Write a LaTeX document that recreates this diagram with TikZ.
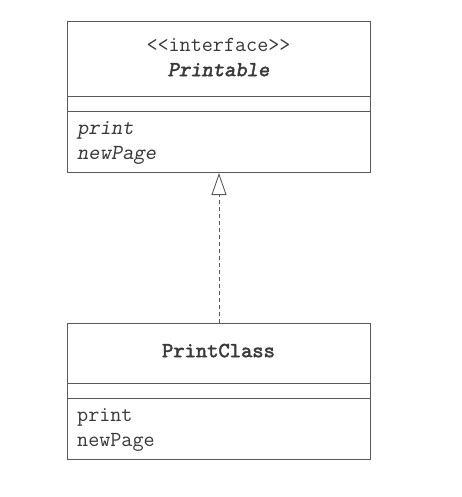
\documentclass[tikz,border=0pt]{standalone}
\usepackage{fontspec}
\newfontfamily\heavytt{lmmono10-regular.otf}[FakeBold=2.2]
\newfontfamily\heavyslt{lmmono10-regular.otf}[FakeBold=2.2, FakeSlant=0.18]
\usetikzlibrary{arrows.meta}
\definecolor{linegray}{HTML}{5A5A5A}
\definecolor{textgray}{HTML}{3A3A3A}
\begin{document}
\begin{tikzpicture}[x=1pt,y=-1pt,
  umlbox/.style={draw=linegray, line width=1pt, fill=white, inner sep=0pt, anchor=north west},
  sepline/.style={draw=linegray, line width=1pt},
  umltext/.style={text=textgray, inner sep=0pt, font=\ttfamily\fontsize{21.5}{23}\selectfont},
  realize/.style={draw=linegray, line width=0.9pt, dash pattern=on 4pt off 3pt,
    -{Triangle[open,length=22pt,width=15pt]}}
]
\useasboundingbox (0,0) rectangle (462,497);
% interface box
\node[umlbox, minimum width=303pt, minimum height=151pt] (iface) at (67,21) {};
\draw[sepline] (67,97) -- (370,97);
\draw[sepline] (67,112) -- (370,112);
\node[umltext, anchor=mid] (stereo) at (218.5,49) {<{}<interface>{}>};
\node[umltext, anchor=mid] (ifname) at (218.5,74) {\heavyslt Printable};
\node[umltext, anchor=mid west] (m1) at (77,132) {\slshape print};
\node[umltext, anchor=mid west] (m2) at (77,157) {\slshape newPage};
% class box
\node[umlbox, minimum width=303pt, minimum height=136pt] (cls) at (67,323) {};
\draw[sepline] (67,383) -- (370,383);
\draw[sepline] (67,398) -- (370,398);
\node[umltext, anchor=mid] (clname) at (218.5,355) {\heavytt PrintClass};
\node[umltext, anchor=mid west] (c1) at (77,419) {print};
\node[umltext, anchor=mid west] (c2) at (77,444) {newPage};
% realization
\draw[realize] (cls.north) -- (iface.south);
\end{tikzpicture}
\end{document}
